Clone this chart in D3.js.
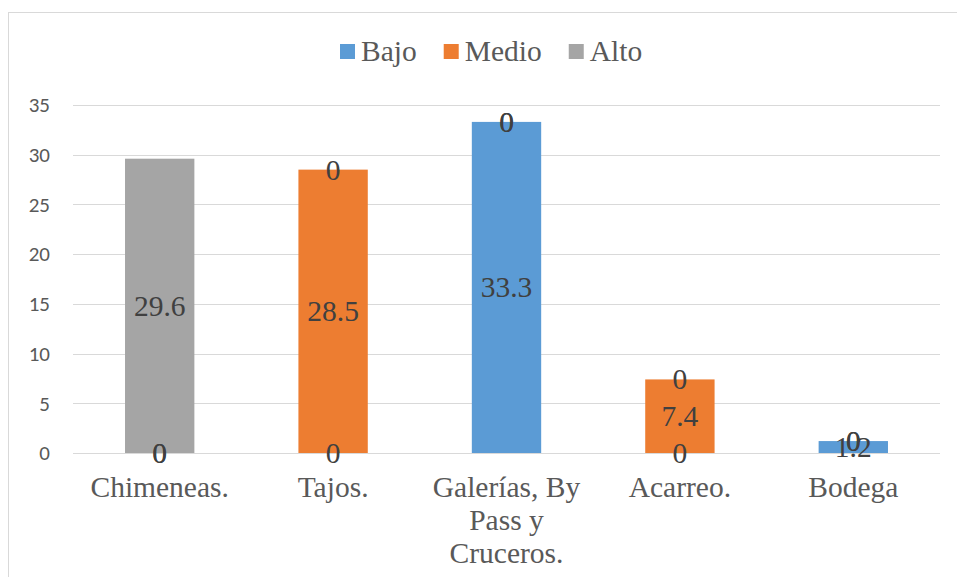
<!DOCTYPE html>
<html>
<head>
<meta charset="utf-8">
<script src="https://cdn.jsdelivr.net/npm/d3@7"></script>
<style>
  html, body { margin: 0; padding: 0; background: #fff; }
  svg { display: block; }
  .serif { font-family: "Liberation Serif", "Times New Roman", Tinos, "DejaVu Serif", serif; }
  .sans { font-family: Carlito, Calibri, "Open Sans", "Liberation Sans", sans-serif; }
</style>
</head>
<body>
<svg id="chart" width="957" height="577"></svg>
<script>
// Categories and series values (stacked: Bajo, Medio, Alto)
const categories = ["Chimeneas.", "Tajos.", "Galerías, By Pass y Cruceros.", "Acarreo.", "Bodega"];
const seriesNames = ["Bajo", "Medio", "Alto"];
const bajo  = [0, 0, 33.3, 0, 1.2];
const medio = [0, 28.5, 0, 7.4, 0];
const alto  = [29.6, 0, 0, 0, 0];
const yTicks = [0, 5, 10, 15, 20, 25, 30, 35];
const colors = ["#5b9bd5", "#ed7d31", "#a5a5a5"];

const rows = categories.map((c, i) => ({ cat: c, Bajo: bajo[i], Medio: medio[i], Alto: alto[i] }));

const svg = d3.select("#chart");
const W = 957, H = 577;
const margin = { left: 73, right: 17, top: 105, bottom: 124 };
const serifSize = "29.5px";

// Outer chart frame
svg.append("rect")
  .attr("x", 8.5).attr("y", 12.5)
  .attr("width", W + 20).attr("height", H + 20)
  .attr("fill", "#fff").attr("stroke", "#d9d9d9").attr("stroke-width", 1);

const x = d3.scaleBand()
  .domain(categories)
  .range([margin.left, W - margin.right])
  .paddingInner(0.6)
  .paddingOuter(0.3);

const y = d3.scaleLinear()
  .domain([0, 35])
  .range([H - margin.bottom, margin.top]);

// Gridlines
svg.append("g")
  .selectAll("line")
  .data(yTicks)
  .join("line")
  .attr("x1", margin.left).attr("x2", W - margin.right)
  .attr("y1", d => Math.round(y(d)) + 0.5).attr("y2", d => Math.round(y(d)) + 0.5)
  .attr("stroke", "#d9d9d9").attr("stroke-width", 1);

// Y axis labels
const yAxis = d3.axisLeft(y).tickValues(yTicks).tickSize(0).tickPadding(0);
const gy = svg.append("g")
  .attr("transform", `translate(50,0)`)
  .call(yAxis);
gy.select(".domain").remove();
gy.attr("font-family", null).attr("font-size", null);
gy.selectAll("text")
  .attr("class", "sans")
  .style("font-size", "21px")
  .attr("fill", "#595959");

// Stacked bars
const stack = d3.stack().keys(seriesNames);
const layers = stack(rows);

const gBars = svg.append("g");
layers.forEach((layer, li) => {
  gBars.selectAll(null)
    .data(layer)
    .join("rect")
    .attr("x", d => x(d.data.cat))
    .attr("width", x.bandwidth())
    .attr("y", d => y(d[1]))
    .attr("height", d => y(d[0]) - y(d[1]))
    .attr("fill", colors[li]);
});

// Data labels centred in each segment
const gLab = svg.append("g");
layers.forEach(layer => {
  gLab.selectAll(null)
    .data(layer)
    .join("text")
    .attr("class", "serif")
    .attr("x", d => x(d.data.cat) + x.bandwidth() / 2)
    .attr("y", d => y((d[0] + d[1]) / 2) + 10)
    .attr("text-anchor", "middle")
    .style("font-size", serifSize)
    .attr("fill", "#404040")
    .text(d => String(+(d[1] - d[0]).toFixed(1)));
});

// Category labels, wrapped within the band
const gx = svg.append("g");
const maxW = 170;
categories.forEach(cat => {
  const cxp = x(cat) + x.bandwidth() / 2;
  const t = gx.append("text")
    .attr("class", "serif")
    .attr("x", cxp)
    .attr("y", 497)
    .attr("text-anchor", "middle")
    .style("font-size", serifSize)
    .attr("fill", "#595959");
  const words = cat.split(" ");
  let line = [];
  let tspan = t.append("tspan").attr("x", cxp).attr("dy", 0);
  words.forEach(w => {
    line.push(w);
    tspan.text(line.join(" "));
    if (tspan.node().getComputedTextLength() > maxW && line.length > 1) {
      line.pop();
      tspan.text(line.join(" "));
      line = [w];
      tspan = t.append("tspan").attr("x", cxp).attr("dy", 33).text(w);
    }
  });
});

// Legend, centred above the plot
const gLeg = svg.append("g");
const legColor = d3.scaleOrdinal().domain(seriesNames).range(colors);
let lx = 0;
seriesNames.forEach(name => {
  gLeg.append("rect")
    .attr("x", lx).attr("y", 44)
    .attr("width", 15).attr("height", 15)
    .attr("fill", legColor(name));
  const tt = gLeg.append("text")
    .attr("class", "serif")
    .attr("x", lx + 21).attr("y", 61)
    .style("font-size", serifSize)
    .attr("fill", "#595959")
    .text(name);
  lx += 21 + tt.node().getComputedTextLength() + 27;
});
const legW = lx - 27;
gLeg.attr("transform", `translate(${Math.round(491 - legW / 2)},0)`);
</script>
</body>
</html>
